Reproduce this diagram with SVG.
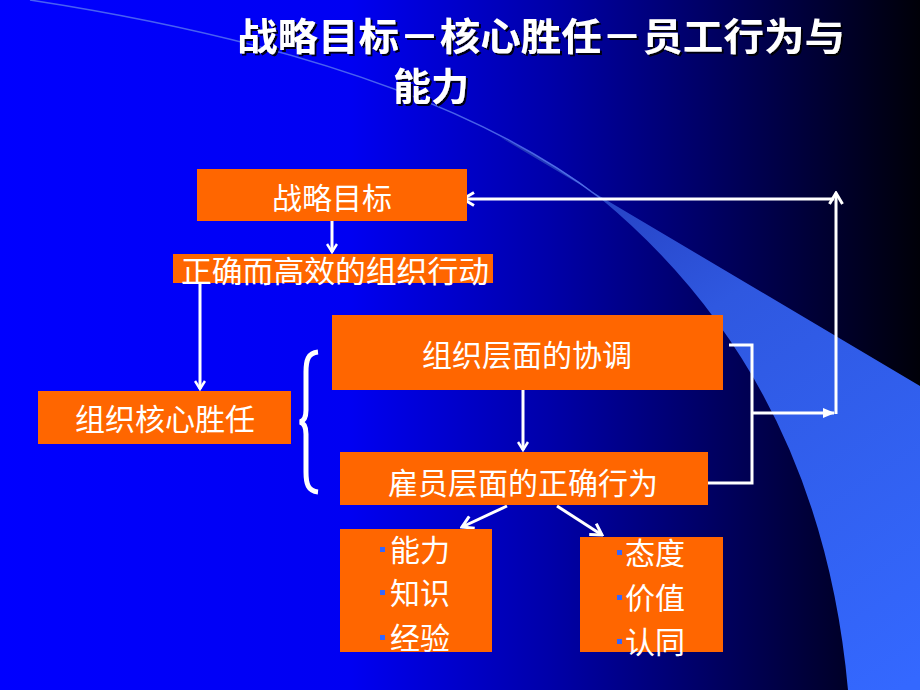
<svg xmlns="http://www.w3.org/2000/svg" width="920" height="690" viewBox="0 0 920 690">
<defs>
<linearGradient id="bg" x1="0" y1="0" x2="1" y2="0">
<stop offset="0" stop-color="#0000FF"/>
<stop offset="0.38" stop-color="#0000F2"/>
<stop offset="0.6" stop-color="#0000A8"/>
<stop offset="0.8" stop-color="#000058"/>
<stop offset="1" stop-color="#000008"/>
</linearGradient>
<linearGradient id="band" x1="540" y1="150" x2="900" y2="690" gradientUnits="userSpaceOnUse">
<stop offset="0" stop-color="#2238B8"/>
<stop offset="0.35" stop-color="#2F58E0"/>
<stop offset="1" stop-color="#3468FF"/>
</linearGradient>
<filter id="shadow" x="-5%" y="-20%" width="115%" height="150%">
<feDropShadow dx="2" dy="2" stdDeviation="0.5" flood-color="#000000" flood-opacity="0.9"/>
</filter>
<marker id="vee" viewBox="0 0 12 12" refX="10" refY="6" markerWidth="12" markerHeight="12" markerUnits="userSpaceOnUse" orient="auto">
<path d="M2,1 L10,6 L2,11" fill="none" stroke="#FFFFFF" stroke-width="2.5" stroke-linejoin="miter"/>
</marker>
<marker id="veeL" viewBox="0 0 16 16" refX="14" refY="8" markerWidth="16" markerHeight="16" markerUnits="userSpaceOnUse" orient="auto">
<path d="M3,1.5 L14,8 L3,14.5" fill="none" stroke="#FFFFFF" stroke-width="3"/>
</marker>
<marker id="tri" viewBox="0 0 12 12" refX="11" refY="6" markerWidth="12" markerHeight="12" markerUnits="userSpaceOnUse" orient="auto">
<path d="M0,1 L12,6 L0,11 Z" fill="#FFFFFF"/>
</marker>
<style>
.box{fill:#FF6600}
.t{font-family:"Noto Sans CJK SC","Noto Sans",sans-serif;fill:#FFFFFF;font-size:30px}
.c{text-anchor:middle}
.title{font-family:"Noto Sans CJK SC","Noto Sans",sans-serif;font-size:38px;font-weight:bold;fill:#FFFFFF;filter:url(#shadow)}
.line{fill:none;stroke:#FFFFFF;stroke-width:3}
.bul{fill:#3366FF}
</style>
</defs>

<rect x="0" y="0" width="920" height="690" fill="url(#bg)"/>
<path d="M500,137 Q560,165 600,198 Q820,380 848,690 L920,690 L920,386 Z" fill="url(#band)"/>
<path d="M30,0 Q420,60 600,198" fill="none" stroke="#5A78F0" stroke-width="1.5" opacity="0.8"/>

<g id="title">
<text class="title" x="237" y="50" textLength="608" lengthAdjust="spacingAndGlyphs">战略目标－核心胜任－员工行为与</text>
<text class="title" x="393" y="100">能力</text>
</g>

<g id="connectors">
<line class="line" x1="332" y1="221" x2="332" y2="252" stroke-width="2.5" marker-end="url(#vee)"/>
<line class="line" x1="200" y1="283" x2="200" y2="389" stroke-width="2.5" marker-end="url(#vee)"/>
<line class="line" x1="523" y1="390" x2="523" y2="450" stroke-width="2.5" marker-end="url(#vee)"/>
<polyline class="line" points="729,345 752,345 752,483 708,483"/>
<line class="line" x1="752" y1="413" x2="834" y2="413" marker-end="url(#tri)"/>
<line class="line" x1="836" y1="414" x2="836" y2="193" marker-end="url(#veeL)"/>
<line class="line" x1="834" y1="199" x2="463" y2="199" marker-end="url(#veeL)"/>
<line class="line" x1="507" y1="506" x2="462" y2="527" marker-end="url(#veeL)"/>
<line class="line" x1="557" y1="506" x2="602" y2="535" marker-end="url(#veeL)"/>
<path d="M318,352 C308,353 306,360 306,372 L306,410 C306,417 304,421 300,422 C304,423 306,427 306,434 L306,472 C306,484 308,491 318,492" fill="none" stroke="#FFFFFF" stroke-width="5"/>
</g>

<g id="node-goal">
<rect class="box" x="197" y="169" width="270" height="52"/>
<text class="t c" x="332" y="209" font-size="29">战略目标</text>
</g>

<g id="node-action">
<rect class="box" x="173" y="254" width="320" height="29"/>
<text class="t c" x="335" y="282" textLength="308" lengthAdjust="spacingAndGlyphs">正确而高效的组织行动</text>
</g>

<g id="node-core">
<rect class="box" x="38" y="391" width="253" height="53"/>
<text class="t c" x="165" y="430">组织核心胜任</text>
</g>

<g id="node-coord">
<rect class="box" x="332" y="315" width="391" height="75"/>
<text class="t c" x="527" y="366">组织层面的协调</text>
</g>

<g id="node-behavior">
<rect class="box" x="340" y="452" width="368" height="53"/>
<text class="t c" x="523" y="494">雇员层面的正确行为</text>
</g>

<g id="node-ability">
<rect class="box" x="340" y="529" width="152" height="123"/>
<rect class="bul" x="380" y="547" width="5" height="5"/>
<rect class="bul" x="380" y="590" width="5" height="5"/>
<rect class="bul" x="380" y="635" width="5" height="5"/>
<text class="t" x="390" y="561" font-size="29">能力</text>
<text class="t" x="390" y="604" font-size="29">知识</text>
<text class="t" x="390" y="649" font-size="29">经验</text>
</g>

<g id="node-attitude">
<rect class="box" x="580" y="537" width="143" height="115"/>
<rect class="bul" x="617" y="550" width="5" height="5"/>
<rect class="bul" x="617" y="595" width="5" height="5"/>
<rect class="bul" x="617" y="639" width="5" height="5"/>
<text class="t" x="625" y="564">态度</text>
<text class="t" x="625" y="609">价值</text>
<text class="t" x="625" y="653">认同</text>
</g>
</svg>
